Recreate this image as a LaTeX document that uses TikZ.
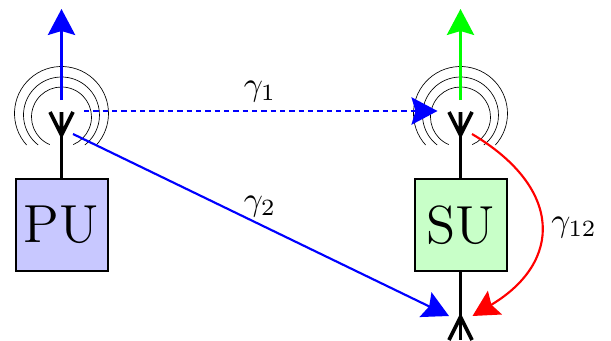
\documentclass[tikz,border=0pt]{standalone}
\usetikzlibrary{arrows.meta}
\tikzset{
  box/.style={draw=black,line width=1.5pt,minimum width=69pt,minimum height=68.5pt,inner sep=0pt,font=\fontsize{12}{12}\selectfont},
  ant/.style={draw=black,line width=2.7pt},
  wave/.style={draw=black,line width=0.5pt},
  sig/.style={line width=1.6pt,-{Stealth[length=19.5pt,width=20.5pt,inset=3pt]}},
  lab/.style={inner sep=0pt}
}
\begin{document}
\begin{tikzpicture}[x=0.75pt,y=0.75pt]
\useasboundingbox (0,0) rectangle (611,340);
\fill[white] (0,0) rectangle (611,340);
% boxes
\node[box,fill={rgb,255:red,200;green,200;blue,255}] (pu) at (61.5,115) {\scalebox{3.35}{PU}};
\node[box,fill={rgb,255:red,200;green,255;blue,200}] (su) at (460.5,115) {\scalebox{3.35}{SU}};
% antenna points
\coordinate (pa) at (61.5,205);
\coordinate (pal) at (50,228);
\coordinate (par) at (73,228);
\coordinate (pat) at (61.5,228);
\coordinate (sa) at (460.5,205);
\coordinate (sal) at (449,228);
\coordinate (sar) at (472,228);
\coordinate (sat) at (460.5,228);
\coordinate (ra) at (460.5,23);
\coordinate (rb) at (460.5,0);
\coordinate (rl) at (449,0);
\coordinate (rr) at (472,0);
\coordinate (pup) at (61.5,331);
\coordinate (pdn) at (61.5,240);
\coordinate (sup) at (460.5,331);
\coordinate (sdn) at (460.5,240);
\coordinate (pdot) at (84,229);
\coordinate (sdot) at (437.5,229);
\coordinate (psol) at (73,206);
\coordinate (rblue) at (449,24);
\coordinate (sred) at (472,206);
\coordinate (rred) at (472.5,24);
% antennas
\draw[ant] (pu.north) -- (pa);
\draw[ant] (pal) -- (pa) -- (par) (pa) -- (pat);
\draw[ant] (su.north) -- (sa);
\draw[ant] (sal) -- (sa) -- (sar) (sa) -- (sat);
\draw[ant] (su.south) -- (rb);
\draw[ant] (rl) -- (ra) -- (rr);
% waves
\foreach \c in {pa,sa}{
  \draw[wave] (\c) ++(0,18) ++(-113:30) arc[start angle=-113,end angle=-427,radius=30];
  \draw[wave] (\c) ++(0,20) ++(-128:38) arc[start angle=-128,end angle=-412,radius=38];
  \draw[wave] (\c) ++(0,21.5) ++(-138:47) arc[start angle=-138,end angle=-402,radius=47];
}
% signals
\draw[sig,blue] (pdn) -- (pup);
\draw[sig,green] (sdn) -- (sup);
\draw[sig,blue,dash pattern=on 4pt off 3pt] (pdot) -- (sdot);
\draw[sig,blue] (psol) -- (rblue);
\draw[sig,red] (sred) .. controls (563,152) and (563,78) .. (rred);
% labels
\node[lab] (g1) at (260,248) {\scalebox{2.5}{$\gamma_1$}};
\node[lab] (g2) at (260,133) {\scalebox{2.5}{$\gamma_2$}};
\node[lab] (g12) at (574,112) {\scalebox{2.5}{$\gamma_{12}$}};
\end{tikzpicture}
\end{document}
